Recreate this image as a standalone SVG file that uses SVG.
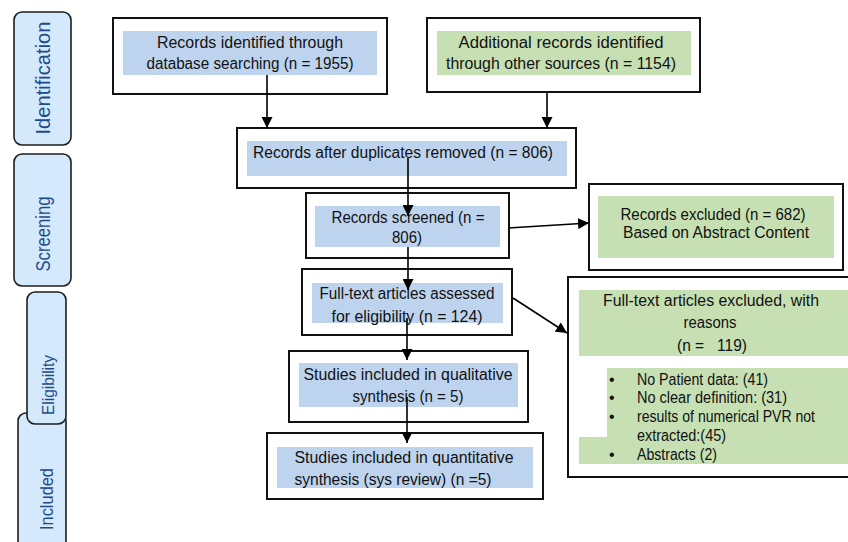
<svg xmlns="http://www.w3.org/2000/svg" width="848" height="542" viewBox="0 0 848 542">
<defs>
<style>
.tab{fill:#d4eafc;stroke:#1e1e1e;stroke-width:1.6}
.tt{font-family:"Liberation Sans",Arial,sans-serif;fill:#1f4a8a;text-anchor:middle}
.box{fill:#fff;stroke:#111;stroke-width:2}
.blue{fill:#bed4ee}
.green{fill:#c6e0b4}
.t{font-family:"Liberation Sans",Arial,sans-serif;font-size:16px;fill:#111;text-anchor:middle}
.tl{font-family:"Liberation Sans",Arial,sans-serif;font-size:16px;fill:#111}
.conn{stroke:#000;stroke-width:1.6;fill:none;marker-end:url(#ah)}
</style>
<marker id="ah" viewBox="0 0 10 10" refX="10" refY="5" markerWidth="11" markerHeight="11" markerUnits="userSpaceOnUse" orient="auto">
<path d="M0,0 L10,5 L0,10 z" fill="#000"/>
</marker>
</defs>
<rect width="848" height="542" fill="#fff"/>

<g id="tab-identification">
<rect class="tab" x="14" y="12" width="57" height="133" rx="8"/>
<text class="tt" x="50" y="78" font-size="21" textLength="113" lengthAdjust="spacingAndGlyphs" transform="rotate(-90 50 78)">Identification</text>
</g>
<g id="tab-screening">
<rect class="tab" x="14" y="154" width="57" height="132" rx="8"/>
<text class="tt" x="50" y="234" font-size="21" textLength="75" lengthAdjust="spacingAndGlyphs" transform="rotate(-90 50 234)">Screening</text>
</g>
<g id="tab-included">
<rect class="tab" x="18" y="413" width="48" height="150" rx="8"/>
<text class="tt" x="53" y="499" font-size="19" textLength="62" lengthAdjust="spacingAndGlyphs" transform="rotate(-90 53 499)">Included</text>
</g>
<g id="tab-eligibility">
<rect class="tab" x="27" y="292" width="39" height="132" rx="8"/>
<text class="tt" x="54" y="385" font-size="16" textLength="60" lengthAdjust="spacingAndGlyphs" transform="rotate(-90 54 385)">Eligibility</text>
</g>

<g id="n-identified">
<rect class="box" x="113" y="18" width="274" height="76"/>
<rect class="blue" x="123" y="31" width="254" height="44"/>
<text class="t" x="250" y="48" textLength="186" lengthAdjust="spacingAndGlyphs">Records identified through</text>
<text class="t" x="250" y="69" textLength="207" lengthAdjust="spacingAndGlyphs">database searching (n = 1955)</text>
</g>
<g id="n-additional">
<rect class="box" x="427" y="18" width="273" height="74"/>
<rect class="green" x="437" y="31" width="254" height="44"/>
<text class="t" x="561" y="48" textLength="205" lengthAdjust="spacingAndGlyphs">Additional records identified</text>
<text class="t" x="561" y="69" textLength="230" lengthAdjust="spacingAndGlyphs">through other sources (n = 1154)</text>
</g>
<g id="n-duplicates">
<rect class="box" x="237" y="128" width="339" height="60"/>
<rect class="blue" x="247" y="141" width="320" height="35"/>
<text class="t" x="403" y="158" textLength="300" lengthAdjust="spacingAndGlyphs">Records after duplicates removed (n = 806)</text>
</g>
<g id="n-screened">
<rect class="box" x="306" y="193" width="203" height="65"/>
<rect class="blue" x="315" y="206" width="185" height="41"/>
<text class="t" x="408" y="223" textLength="153" lengthAdjust="spacingAndGlyphs">Records screened (n =</text>
<text class="t" x="407" y="243" textLength="30" lengthAdjust="spacingAndGlyphs">806)</text>
</g>
<g id="n-excluded">
<rect class="box" x="589" y="184" width="254" height="86"/>
<rect class="green" x="598" y="196" width="236" height="62"/>
<text class="t" x="713" y="220" textLength="185" lengthAdjust="spacingAndGlyphs">Records excluded (n = 682)</text>
<text class="t" x="716" y="238" textLength="186" lengthAdjust="spacingAndGlyphs">Based on Abstract Content</text>
</g>
<g id="n-fulltext">
<rect class="box" x="302" y="269" width="210" height="66"/>
<rect class="blue" x="312" y="283" width="191" height="40"/>
<text class="t" x="407" y="299" textLength="175" lengthAdjust="spacingAndGlyphs">Full-text articles assessed</text>
<text class="t" x="407" y="322" textLength="151" lengthAdjust="spacingAndGlyphs">for eligibility (n = 124)</text>
</g>
<g id="n-fulltext-excluded">
<rect class="box" x="568" y="277" width="292" height="200"/>
<rect class="green" x="579" y="290" width="275" height="66"/>
<polygon class="green" points="607,368 850,368 850,464 579,464 579,437 607,437"/>
<text class="t" x="711" y="306" textLength="216" lengthAdjust="spacingAndGlyphs">Full-text articles excluded, with</text>
<text class="t" x="710" y="328" textLength="53" lengthAdjust="spacingAndGlyphs">reasons</text>
<text class="t" x="712" y="351" textLength="70" lengthAdjust="spacingAndGlyphs" xml:space="preserve">(n =   119)</text>
<text class="tl" x="609" y="385">•</text>
<text class="tl" x="609" y="403">•</text>
<text class="tl" x="609" y="422">•</text>
<text class="tl" x="609" y="460">•</text>
<text class="tl" x="637" y="385" textLength="131" lengthAdjust="spacingAndGlyphs">No Patient data: (41)</text>
<text class="tl" x="637" y="403" textLength="150" lengthAdjust="spacingAndGlyphs">No clear definition: (31)</text>
<text class="tl" x="637" y="422" textLength="178" lengthAdjust="spacingAndGlyphs">results of numerical PVR not</text>
<text class="tl" x="637" y="441" textLength="89" lengthAdjust="spacingAndGlyphs">extracted:(45)</text>
<text class="tl" x="637" y="460" textLength="80" lengthAdjust="spacingAndGlyphs">Abstracts (2)</text>
</g>
<g id="n-qualitative">
<rect class="box" x="289" y="351" width="239" height="71"/>
<rect class="blue" x="299" y="363" width="219" height="44"/>
<text class="t" x="408" y="380" textLength="209" lengthAdjust="spacingAndGlyphs">Studies included in qualitative</text>
<text class="t" x="408" y="402" textLength="111" lengthAdjust="spacingAndGlyphs">synthesis (n = 5)</text>
</g>
<g id="n-quantitative">
<rect class="box" x="267" y="433" width="276" height="66"/>
<rect class="blue" x="277" y="447" width="256" height="41"/>
<text class="t" x="404" y="463" textLength="219" lengthAdjust="spacingAndGlyphs">Studies included in quantitative</text>
<text class="t" x="393" y="485" textLength="197" lengthAdjust="spacingAndGlyphs">synthesis (sys review) (n =5)</text>
</g>

<g id="connectors">
<line class="conn" x1="267" y1="75" x2="267" y2="128"/>
<line class="conn" x1="547" y1="92" x2="547" y2="128"/>
<line class="conn" x1="408" y1="158" x2="408" y2="216"/>
<line class="conn" x1="508" y1="228" x2="589" y2="223"/>
<line class="conn" x1="408" y1="247" x2="408" y2="290"/>
<line class="conn" x1="513" y1="298" x2="567" y2="333"/>
<line class="conn" x1="407" y1="318" x2="407" y2="360"/>
<line class="conn" x1="407" y1="397" x2="407" y2="443"/>
</g>
</svg>
